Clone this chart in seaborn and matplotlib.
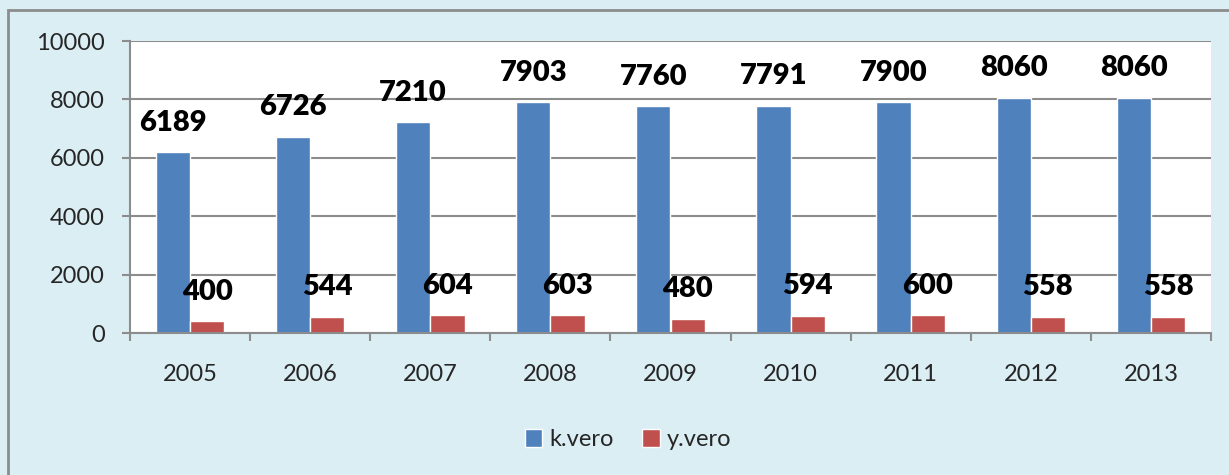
import pandas as pd
import seaborn as sns
import matplotlib.pyplot as plt
from matplotlib.patches import Rectangle
from matplotlib.ticker import FixedLocator

# 数据
years = ['2005', '2006', '2007', '2008', '2009', '2010', '2011', '2012', '2013']
k_vero = [6189, 6726, 7210, 7903, 7760, 7791, 7900, 8060, 8060]
y_vero = [400, 544, 604, 603, 480, 594, 600, 558, 558]
series_names = ['k.vero', 'y.vero']
colors = ['#4F81BD', '#C0504D']

df = pd.DataFrame({
    'Year': years * 2,
    'Value': k_vero + y_vero,
    'Series': [series_names[0]] * len(years) + [series_names[1]] * len(years),
})

sns.set_style('white')
plt.rcParams['font.family'] = ['Lato', 'DejaVu Sans']

fig = plt.figure(figsize=(12.29, 4.75), dpi=100)
fig.patch.set_facecolor('#DBEEF4')

# 外框
fig.patches.append(Rectangle((8 / 1229, -0.05), 1.1, 1 - 10 / 475 + 0.05,
                             transform=fig.transFigure, facecolor='none',
                             edgecolor='#8C8C8C', linewidth=2, zorder=0))

ax = fig.add_axes([130 / 1229, 1 - 333 / 475, (1211 - 130) / 1229, (333 - 41) / 475])
ax.set_facecolor('white')

sns.barplot(data=df, x='Year', y='Value', hue='Series', palette=colors,
            width=0.57, saturation=1, ax=ax, legend=True)

for cont in ax.containers:
    ax.bar_label(cont, padding=12, fontsize=21, fontweight='heavy', color='black')

ax.set_ylim(0, 10000)
ax.set_yticks(range(0, 10001, 2000))
ax.set_xlim(-0.5, len(years) - 0.5)
ax.yaxis.grid(True, color='#8C8C8C', linewidth=1.5)
ax.set_axisbelow(True)
ax.set_xlabel('')
ax.set_ylabel('')

for s in ['top', 'right']:
    ax.spines[s].set_visible(False)
for s in ['left', 'bottom']:
    ax.spines[s].set_color('#8C8C8C')
    ax.spines[s].set_linewidth(1.5)

# 刻度
ax.tick_params(axis='y', which='major', direction='out', length=6, width=1.5,
               color='#8C8C8C', labelsize=17, pad=12, left=True)
ax.tick_params(axis='x', which='major', length=0, labelsize=17, pad=22)
ax.xaxis.set_minor_locator(FixedLocator([i + 0.5 for i in range(-1, len(years))]))
ax.tick_params(axis='x', which='minor', direction='out', length=6, width=1.5,
               color='#8C8C8C', bottom=True)

# 图例
handles, labels = ax.get_legend_handles_labels()
ax.get_legend().remove()
fig.legend(handles, labels, loc='center', bbox_to_anchor=(0.511, 0.074), ncol=2,
           frameon=False, fontsize=17, handlelength=0.75, handleheight=0.75,
           handletextpad=0.3, columnspacing=1.2)

plt.savefig('out.png', dpi=100, facecolor=fig.get_facecolor())
